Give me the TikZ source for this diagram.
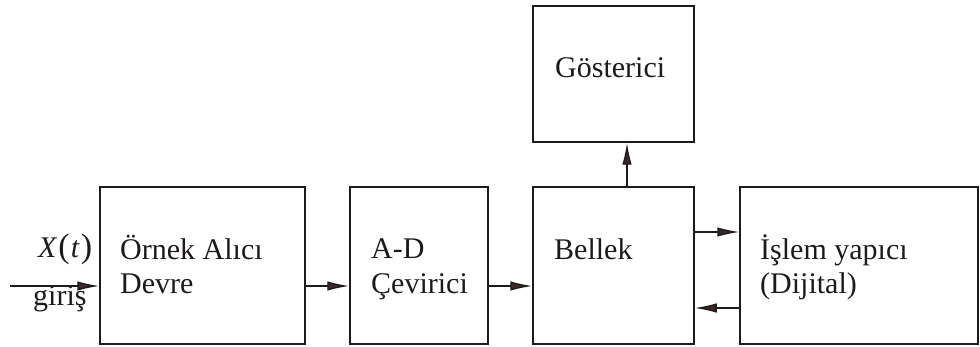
\documentclass[tikz,border=0pt]{standalone}
\usepackage{fontspec}
\setmainfont{Liberation Serif}
\usetikzlibrary{arrows.meta}
\definecolor{inkc}{HTML}{1E1A1A}
\definecolor{tipc}{HTML}{3A2A2A}
\tikzset{
  blk/.style={draw=inkc, line width=1.5pt, rectangle, inner sep=0pt},
  lbl/.style={anchor=base west, inner sep=0pt, font=\fontsize{30}{34}\selectfont, text=inkc},
  arr/.style={draw=inkc, line width=1.4pt, -{Latex[length=22pt,width=9.5pt,fill=tipc]}},
}
\begin{document}
\begin{tikzpicture}[x=1pt,y=-1pt]
\useasboundingbox (0,0) rectangle (980,347);
% boxes
\node[blk, minimum width=205pt, minimum height=157pt] (oad) at (202.5,265.5) {};
\node[blk, minimum width=138pt, minimum height=157pt] (ad) at (419,265.5) {};
\node[blk, minimum width=161pt, minimum height=157pt] (bel) at (613.5,265.5) {};
\node[blk, minimum width=161pt, minimum height=136pt] (gos) at (613.5,74) {};
\node[blk, minimum width=238pt, minimum height=157pt] (isl) at (859,265.5) {};
% labels
\node[lbl] (t1) at (120,260) {Örnek Alıcı};
\node[lbl] (t2) at (120,294) {Devre};
\node[lbl] (t3) at (371,259) {A-D};
\node[lbl] (t4) at (371,294) {Çevirici};
\node[lbl] (t5) at (554,260) {Bellek};
\node[lbl] (t6) at (555,78) {Gösterici};
\node[lbl] (t7) at (760,260) {İşlem yapıcı};
\node[lbl] (t8) at (760,294) {(Dijital)};
\node[lbl] (xt) at (38,258) {\textit{X}\kern1pt{\fontsize{34}{34}\selectfont(}\kern1pt\textit{t}\kern1pt{\fontsize{34}{34}\selectfont)}};
\node[lbl] (gi) at (33,306) {giriş};
% connectors
\coordinate (in) at (10,286);
\draw[arr] (in) -- (in -| oad.west);
\draw[arr] (in -| oad.east) -- (in -| ad.west);
\draw[arr] (in -| ad.east) -- (in -| bel.west);
\draw[arr] ([xshift=13.5pt]bel.north) -- ([xshift=13.5pt]gos.south);
\draw[arr] ([yshift=33.5pt]bel.east) -- ([yshift=33.5pt]bel.east -| isl.west);
\draw[arr] ([yshift=-42.5pt]isl.west) -- ([yshift=-42.5pt]isl.west -| bel.east);
\end{tikzpicture}
\end{document}
